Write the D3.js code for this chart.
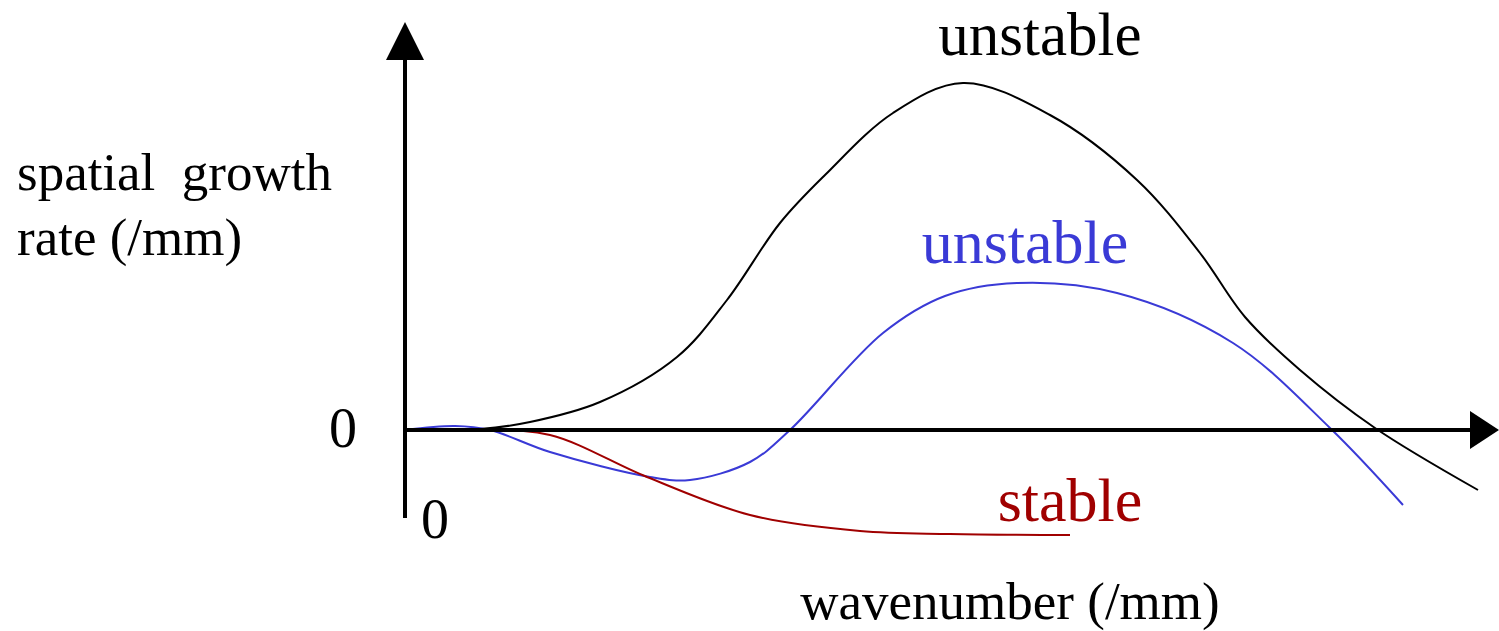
<!DOCTYPE html>
<html>
<head>
<meta charset="utf-8">
<script src="https://cdn.jsdelivr.net/npm/d3@7"></script>
<style>
  body { margin: 0; background: #fff; }
  svg { display: block; }
</style>
</head>
<body>
<div id="chart"></div>
<script>
// curves (arbitrary units: wavenumber, growth rate)
var black_x = [0, 75, 125, 195, 272, 322, 375, 420, 488, 558, 645, 732, 795, 840, 895, 970, 1073];
var black_y = [0, 1, 8, 28, 73, 130, 207, 255, 317, 347, 315, 250, 177, 113, 60, 2, -60];

var blue_x = [0, 50, 85, 145, 245, 285, 345, 385, 478, 540, 612, 712, 828, 925, 998];
var blue_y = [0, 4, 0, -22, -47, -50, -32, 0, 97, 134, 147, 137, 87, 2, -75];

var red_x = [0, 75, 145, 242, 345, 455, 545, 665];
var red_y = [0, 0, -5, -47, -85, -101, -104, -105];

var svg = d3.select("#chart").append("svg")
    .attr("width", 1499)
    .attr("height", 631);

var x_scale = d3.scaleLinear().domain([0, 1000]).range([405, 1405]);
var y_scale = d3.scaleLinear().domain([-100, 350]).range([530, 80]);

var line = d3.line()
    .x(function (d) { return x_scale(d[0]); })
    .y(function (d) { return y_scale(d[1]); })
    .curve(d3.curveCatmullRom);

function drawCurve(xs, ys, color) {
    svg.append("path")
        .datum(d3.zip(xs, ys))
        .attr("d", line)
        .attr("fill", "none")
        .attr("stroke", color)
        .attr("stroke-width", 2);
}

drawCurve(black_x, black_y, "#000000");
drawCurve(blue_x, blue_y, "#3a3ad6");
drawCurve(red_x, red_y, "#a00000");

// axes
var x0 = x_scale(0), y0 = y_scale(0);
svg.append("line")
    .attr("x1", x0).attr("y1", 518)
    .attr("x2", x0).attr("y2", 50)
    .attr("stroke", "black").attr("stroke-width", 4);
svg.append("path")
    .attr("d", "M" + x0 + ",22 L" + (x0 - 19) + ",60 L" + (x0 + 19) + ",60 Z")
    .attr("fill", "black");

svg.append("line")
    .attr("x1", x0).attr("y1", y0)
    .attr("x2", 1480).attr("y2", y0)
    .attr("stroke", "black").attr("stroke-width", 4);
svg.append("path")
    .attr("d", "M1499," + y0 + " L1470," + (y0 - 19) + " L1470," + (y0 + 19) + " Z")
    .attr("fill", "black");

function label(x, y, txt, size, color, anchor) {
    svg.append("text")
        .attr("x", x).attr("y", y)
        .attr("font-family", "'Liberation Serif', 'Times New Roman', serif")
        .attr("font-size", size)
        .attr("fill", color)
        .attr("text-anchor", anchor || "start")
        .text(txt);
}

label(1040, 55, "unstable", 61, "#000000", "middle");
label(1025, 263, "unstable", 62, "#3a3ad6", "middle");
label(1070, 521, "stable", 62, "#a00000", "middle");
label(343, 447, "0", 56, "#000000", "middle");
label(435, 538, "0", 56, "#000000", "middle");
label(17, 190, "spatial\u00a0\u00a0growth", 53, "#000000");
label(17, 255, "rate (/mm)", 53, "#000000");
label(1010, 619, "wavenumber (/mm)", 53, "#000000", "middle");
</script>
</body>
</html>
